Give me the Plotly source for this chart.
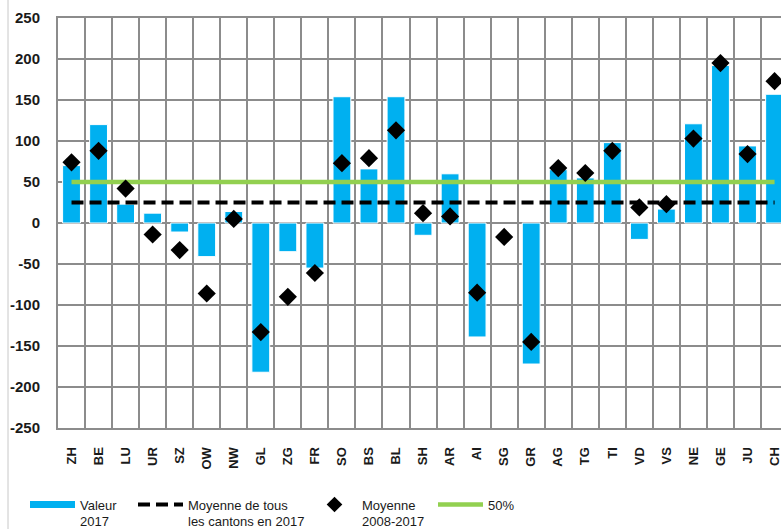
import plotly.graph_objects as go

cantons = ["ZH", "BE", "LU", "UR", "SZ", "OW", "NW", "GL", "ZG", "FR", "SO", "BS", "BL", "SH",
           "AR", "AI", "SG", "GR", "AG", "TG", "TI", "VD", "VS", "NE", "GE", "JU", "CH"]
valeur_2017 = [70, 120, 23, 12, -11, -41, 14, -182, -35, -55, 154, 66, 154, -15,
               60, -139, None, -172, 65, 55, 98, -20, 17, 121, 192, 94, 157]
moyenne_2008_2017 = [74, 88, 42, -14, -33, -86, 5, -133, -90, -61, 73, 79, 113, 12,
                     8, -85, -17, -145, 67, 61, 88, 19, 23, 103, 195, 84, 173]
moyenne_cantons_2017 = 25
seuil_50 = 50
y_ticks = [-250, -200, -150, -100, -50, 0, 50, 100, 150, 200, 250]
y_tick_labels = ["-250", "-200", "-150", "-100", "-50", "0", "50", "100", "150", "200", "250"]

BLUE = "#00b0f0"
GREEN = "#92d050"
GRID = "#8c8c8c"
TXT = "#1a1a1a"
FONT = "Liberation Sans Narrow, Arial Narrow, Liberation Sans, Arial, sans-serif"

fig = go.Figure()

fig.add_trace(go.Bar(
    x=cantons, y=valeur_2017, width=0.66,
    marker=dict(color=BLUE, line=dict(color="white", width=1)),
    showlegend=False, name="Valeur 2017",
))
# legend entry for the bars (wide blue swatch)
fig.add_trace(go.Scatter(
    x=[None], y=[None], mode="lines", line=dict(color=BLUE, width=7),
    name="Valeur<br>2017", legend="legend",
))
fig.add_trace(go.Scatter(
    x=cantons, y=[seuil_50] * len(cantons), mode="lines",
    line=dict(color=GREEN, width=4.5), name="50%", legend="legend4",
))
fig.add_trace(go.Scatter(
    x=cantons, y=[moyenne_cantons_2017] * len(cantons), mode="lines",
    line=dict(color="black", width=4, dash="12px,6px"),
    name="Moyenne de tous<br>les cantons en 2017", legend="legend2",
))
fig.add_trace(go.Scatter(
    x=cantons, y=moyenne_2008_2017, mode="markers",
    marker=dict(symbol="diamond", size=14, color="black"),
    name="Moyenne<br>2008-2017", legend="legend3",
))

plot_w = 781 - 58
cat_px = 27.04
x_max = -0.5 + plot_w / cat_px


def px_to_paper(px):
    return (px - 58) / plot_w


leg_common = dict(orientation="h", xanchor="left", yanchor="top", y=-0.150,
                  itemwidth=45, valign="top", bgcolor="rgba(0,0,0,0)",
                  font=dict(family=FONT, size=13, color=TXT))

fig.update_layout(
    width=781, height=529,
    margin=dict(l=58, r=0, t=18, b=101, autoexpand=False),
    paper_bgcolor="white", plot_bgcolor="white",
    font=dict(family=FONT, color=TXT),
    xaxis=dict(
        type="category", range=[-0.5, x_max], tickson="boundaries", automargin=False,
        showgrid=True, gridcolor=GRID, gridwidth=2,
        showline=True, linecolor=GRID, linewidth=2, mirror=True,
        tickangle=-90, ticks="", ticklabelstandoff=12,
        tickfont=dict(family="Liberation Sans, Arial, sans-serif", size=13, color=TXT, weight="bold"),
    ),
    yaxis=dict(
        range=[-250, 250], tickvals=y_ticks, ticktext=y_tick_labels, automargin=False,
        showgrid=True, gridcolor=GRID, gridwidth=2,
        zeroline=True, zerolinecolor=GRID, zerolinewidth=2,
        showline=True, linecolor=GRID, linewidth=2,
        ticks="", ticklabelstandoff=13,
        tickfont=dict(family="Liberation Sans, Arial, sans-serif", size=15, color=TXT, weight="bold"),
    ),
    legend=dict(x=px_to_paper(25), **leg_common),
    legend2=dict(x=px_to_paper(133), **leg_common),
    legend3=dict(x=px_to_paper(307), itemsizing="constant", **leg_common),
    legend4=dict(x=px_to_paper(433), **leg_common),
    shapes=[dict(type="line", xref="paper", yref="paper",
                 x0=px_to_paper(8), x1=px_to_paper(8),
                 y0=(428 - 529) / 410, y1=428 / 410,
                 line=dict(color="#c8c8c8", width=1))],
)

fig.write_html(
    "out.html",
    config={"displayModeBar": False},
    post_script="document.body.style.margin='0';document.body.style.overflow='hidden';",
)
